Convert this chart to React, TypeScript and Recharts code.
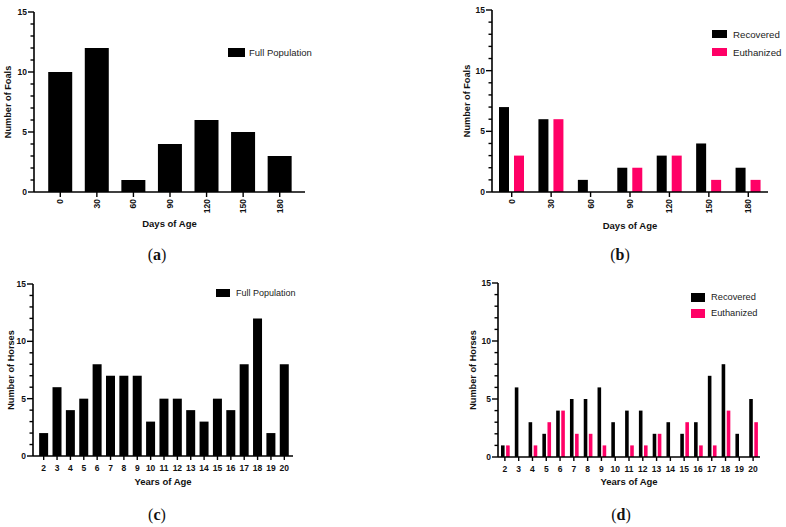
import { BarChart, Bar, XAxis, YAxis, Legend } from 'recharts';

const dayLabels = ['0', '30', '60', '90', '120', '150', '180'];
const foalsFull = [10, 12, 1, 4, 6, 5, 3];
const foalsRecovered = [7, 6, 1, 2, 3, 4, 2];
const foalsEuthanized = [3, 6, 0, 2, 3, 1, 1];

const yearLabels = ['2', '3', '4', '5', '6', '7', '8', '9', '10', '11', '12', '13', '14', '15', '16', '17', '18', '19', '20'];
const horsesFull = [2, 6, 4, 5, 8, 7, 7, 7, 3, 5, 5, 4, 3, 5, 4, 8, 12, 2, 8];
const horsesRecovered = [1, 6, 3, 2, 4, 5, 5, 6, 3, 4, 4, 2, 3, 2, 3, 7, 8, 2, 5];
const horsesEuthanized = [1, 0, 1, 3, 4, 2, 2, 1, 0, 1, 1, 2, 0, 3, 1, 1, 4, 0, 3];

const yTicks = [0, 1, 2, 3, 4, 5, 6, 7, 8, 9, 10, 11, 12, 13, 14, 15];
const yLabelled = [0, 5, 10, 15];
const seriesOrder = ['Full Population', 'Recovered', 'Euthanized'];

const PINK = '#FF0066';
const SANS = '"Liberation Sans", Arial, sans-serif';

const foalsA = dayLabels.map((d, i) => ({ day: d, full: foalsFull[i] }));
const foalsB = dayLabels.map((d, i) => ({ day: d, recovered: foalsRecovered[i], euthanized: foalsEuthanized[i] }));
const horsesC = yearLabels.map((y, i) => ({ year: y, full: horsesFull[i] }));
const horsesD = yearLabels.map((y, i) => ({ year: y, recovered: horsesRecovered[i], euthanized: horsesEuthanized[i] }));

const axisLine = { stroke: '#000', strokeWidth: 1.6 };
const textStyle = { fontFamily: SANS, fontWeight: 700, fontSize: 8.5, fill: '#111' };

function YTick(props: any) {
  const { x, y, payload } = props;
  const major = yLabelled.includes(payload.value);
  return (
    <g>
      <line x1={x - (major ? 6 : 3.5)} x2={x} y1={y} y2={y} stroke="#000" strokeWidth={1.4} />
      {major && (
        <text x={x - 7} y={y} dy="0.35em" textAnchor="end" style={textStyle}>
          {payload.value}
        </text>
      )}
    </g>
  );
}

function RotTick(props: any) {
  const { x, y, payload } = props;
  return (
    <g>
      <line x1={x} x2={x} y1={y} y2={y + 5} stroke="#000" strokeWidth={1.4} />
      <text x={x} y={y + 7} dy="0.35em" textAnchor="end" transform={`rotate(-90 ${x} ${y + 7})`} style={textStyle}>
        {payload.value}
      </text>
    </g>
  );
}

function FlatTick(props: any) {
  const { x, y, payload } = props;
  return (
    <g>
      <line x1={x} x2={x} y1={y} y2={y + 4} stroke="#000" strokeWidth={1.4} />
      <text x={x} y={y + 12} dy="0.35em" textAnchor="middle" style={textStyle}>
        {payload.value}
      </text>
    </g>
  );
}

const yTitle = (text: string, x: number) => (p: any) => {
  const cy = p.viewBox.y + p.viewBox.height / 2;
  return (
    <text x={x} y={cy} dy="0.35em" textAnchor="middle" transform={`rotate(-90 ${x} ${cy})`} style={{ ...textStyle, fontSize: 9.2 }}>
      {text}
    </text>
  );
};

const xTitle = (text: string, dy: number) => (p: any) => {
  const cx = p.viewBox.x + p.viewBox.width / 2;
  return (
    <text x={cx} y={p.viewBox.y + dy} dy="0.35em" textAnchor="middle" style={{ ...textStyle, fontSize: 9.5 }}>
      {text}
    </text>
  );
};

const legendBox = (boxW: number, boxH: number, rowH: number, fontSize: number, gap: number) => (p: any) => {
  const items = [...(p.payload || [])].sort((a: any, b: any) => seriesOrder.indexOf(a.value) - seriesOrder.indexOf(b.value));
  return (
    <div style={{ fontFamily: SANS, fontSize, color: '#222' }}>
      {items.map((e: any) => (
        <div key={e.value} style={{ display: 'flex', alignItems: 'center', height: rowH }}>
          <span style={{ display: 'inline-block', width: boxW, height: boxH, background: e.color, marginRight: gap }} />
          <span>{e.value}</span>
        </div>
      ))}
    </div>
  );
};

function Caption({ letter, left, top }: { letter: string; left: number; top: number }) {
  return (
    <div style={{ position: 'absolute', left, top, width: 40, textAlign: 'center', fontFamily: '"Liberation Serif", "DejaVu Serif", serif', fontSize: 16, color: '#111', lineHeight: '16px' }}>
      (<b>{letter}</b>)
    </div>
  );
}

export default function App() {
  return (
    <div style={{ position: 'absolute', left: 0, top: 0, width: 786, height: 527, background: '#fff' }}>
      <div style={{ position: 'absolute', left: 0, top: 0 }}>
        <BarChart width={393} height={240} data={foalsA} margin={{ top: 12, right: 88, left: 0, bottom: 8 }} barCategoryGap="17%">
          <XAxis dataKey="day" interval={0} height={40} tickSize={0} tickMargin={0} tickLine={false} axisLine={axisLine} tick={<RotTick />} padding={{ left: 8, right: 7 }} label={xTitle('Days of Age', 32)} />
          <YAxis width={34} domain={[0, 15]} ticks={yTicks} interval={0} tickSize={0} tickMargin={0} tickLine={false} axisLine={axisLine} tick={<YTick />} label={yTitle('Number of Foals', 8)} />
          <Legend layout="vertical" align="center" verticalAlign="middle" wrapperStyle={{ left: 228, top: 43, width: 'auto' }} content={legendBox(17, 9, 19, 9.5, 4)} />
          <Bar dataKey="full" name="Full Population" fill="#000" isAnimationActive={false} />
        </BarChart>
      </div>
      <div style={{ position: 'absolute', left: 393, top: 0 }}>
        <BarChart width={393} height={240} data={foalsB} margin={{ top: 10, right: 18, left: 0, bottom: 8 }} barCategoryGap="18%" barGap={5}>
          <XAxis dataKey="day" interval={0} height={40} tickSize={0} tickMargin={0} tickLine={false} axisLine={axisLine} tick={<RotTick />} label={xTitle('Days of Age', 34)} />
          <YAxis width={99} domain={[0, 15]} ticks={yTicks} interval={0} tickSize={0} tickMargin={0} tickLine={false} axisLine={axisLine} tick={<YTick />} label={yTitle('Number of Foals', 74)} />
          <Legend layout="vertical" align="center" verticalAlign="middle" wrapperStyle={{ left: 319, top: 25, width: 'auto' }} content={legendBox(15, 8, 18, 9.7, 6)} />
          <Bar dataKey="recovered" name="Recovered" fill="#000" barSize={10} isAnimationActive={false} />
          <Bar dataKey="euthanized" name="Euthanized" fill={PINK} barSize={10} isAnimationActive={false} />
        </BarChart>
      </div>
      <div style={{ position: 'absolute', left: 0, top: 260 }}>
        <BarChart width={393} height={240} data={horsesC} margin={{ top: 24, right: 100, left: 0, bottom: 4 }} barCategoryGap="16%">
          <XAxis dataKey="year" interval={0} height={40} tickSize={0} tickMargin={0} tickLine={false} axisLine={axisLine} tick={<FlatTick />} padding={{ left: 4, right: 2 }} label={xTitle('Years of Age', 26)} />
          <YAxis width={33} domain={[0, 15]} ticks={yTicks} interval={0} tickSize={0} tickMargin={0} tickLine={false} axisLine={axisLine} tick={<YTick />} label={yTitle('Number of Horses', 11)} />
          <Legend layout="vertical" align="center" verticalAlign="middle" wrapperStyle={{ left: 216, top: 24, width: 'auto' }} content={legendBox(14, 8, 18, 9, 6)} />
          <Bar dataKey="full" name="Full Population" fill="#000" isAnimationActive={false} />
        </BarChart>
      </div>
      <div style={{ position: 'absolute', left: 393, top: 260 }}>
        <BarChart width={393} height={240} data={horsesD} margin={{ top: 23, right: 26, left: 0, bottom: 3 }} barCategoryGap="17%" barGap={1.5}>
          <XAxis dataKey="year" interval={0} height={40} tickSize={0} tickMargin={0} tickLine={false} axisLine={axisLine} tick={<FlatTick />} label={xTitle('Years of Age', 25)} />
          <YAxis width={105} domain={[0, 15]} ticks={yTicks} interval={0} tickSize={0} tickMargin={0} tickLine={false} axisLine={axisLine} tick={<YTick />} label={yTitle('Number of Horses', 80)} />
          <Legend layout="vertical" align="center" verticalAlign="middle" wrapperStyle={{ left: 298, top: 29, width: 'auto' }} content={legendBox(14, 9, 16, 9.3, 6)} />
          <Bar dataKey="recovered" name="Recovered" fill="#000" barSize={3.6} isAnimationActive={false} />
          <Bar dataKey="euthanized" name="Euthanized" fill={PINK} barSize={3.6} isAnimationActive={false} />
        </BarChart>
      </div>
      <Caption letter="a" left={137} top={247} />
      <Caption letter="b" left={600} top={247} />
      <Caption letter="c" left={137} top={507} />
      <Caption letter="d" left={601} top={507} />
    </div>
  );
}
